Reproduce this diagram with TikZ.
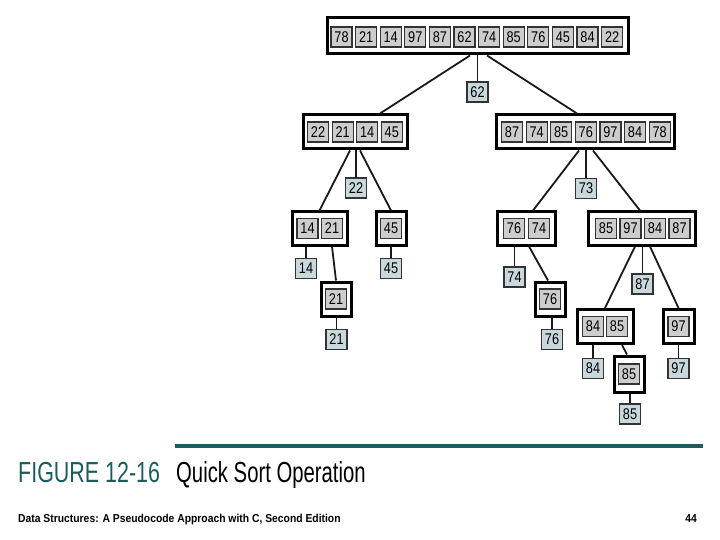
\documentclass[tikz,border=0pt]{standalone}
\usepackage{fontspec}
\setmainfont{Liberation Sans}
\newfontfamily\cellfont[FakeStretch=0.82]{Liberation Sans}
\newfontfamily\capfont[FakeStretch=0.7]{Liberation Sans}
\newfontfamily\tagfont[FakeStretch=0.74]{Liberation Sans}
\newfontfamily\footfont[FakeStretch=0.9]{Liberation Sans}
\definecolor{cellgray}{HTML}{CDCDCD}
\definecolor{fixedblue}{HTML}{C9D8DC}
\definecolor{capteal}{HTML}{1E5C5C}
\begin{document}
\begin{tikzpicture}[
    x=1pt, y=-1pt,
    part/.style={draw=black, line width=3pt, fill=white, minimum height=34pt, inner sep=0pt},
    cell/.style={draw=black!80, line width=1.2pt, fill=cellgray, minimum width=21pt, minimum height=20pt,
                 inner sep=0pt, font=\cellfont\fontsize{15.5}{15.5}\selectfont},
    fixed/.style={cell, fill=fixedblue},
    link/.style={line width=1.8pt, draw=black!90},
    figtag/.style={inner sep=0pt, text=capteal, font=\tagfont\fontsize{29}{30}\selectfont},
    figtitle/.style={inner sep=0pt, font=\capfont\fontsize{29}{30}\selectfont},
    foot/.style={inner sep=0pt, font=\footfont\bfseries\fontsize{11.5}{13}\selectfont}
]
\useasboundingbox (0,0) rectangle (720,540);

% whole list
\node[part, minimum width=301pt, minimum height=36pt] (top) at (477.5,36) {};
\foreach \v [count=\i from 0] in {78,21,14,97,87,62,74,85,76,45,84,22}
  \node[cell] (top-\i) at ({341.5+24.6*\i},37) {\v};
\node[fixed] (p62) at (477.5,92) {62};

% first partition
\node[part, minimum width=104pt] (l) at (355,132) {};
\foreach \v [count=\i from 0] in {22,21,14,45}
  \node[cell] (l-\i) at ({318+24.6*\i},132) {\v};
\node[part, minimum width=178pt] (r) at (585.5,132) {};
\foreach \v [count=\i from 0] in {87,74,85,76,97,84,78}
  \node[cell] (r-\i) at ({512+24.6*\i},132) {\v};

\node[fixed] (p22) at (356,188) {22};
\node[fixed] (p73) at (586,188.5) {73};

% second level
\node[part, minimum width=55pt, minimum height=33pt] (ll) at (319.5,228.5) {};
\node[cell] (ll-0) at (307.5,228.5) {14};
\node[cell] (ll-1) at (332,228.5) {21};
\node[part, minimum width=30pt, minimum height=33pt] (lr) at (391,228.5) {};
\node[cell] (lr-0) at (391,228.5) {45};

\node[part, minimum width=58pt, minimum height=33pt] (rl) at (526,228.5) {};
\node[cell] (rl-0) at (514,228.5) {76};
\node[cell] (rl-1) at (539,228.5) {74};
\node[part, minimum width=107pt, minimum height=33pt] (rr) at (641.5,228.5) {};
\foreach \v [count=\i from 0] in {85,97,84,87}
  \node[cell] (rr-\i) at ({606+24.5*\i},228.5) {\v};

% third level
\node[fixed] (s14) at (306,268.5) {14};
\node[fixed] (s45) at (391,268.5) {45};
\node[part, minimum width=30pt] (lrl) at (336,299) {};
\node[cell] (lrl-0) at (336,299) {21};
\node[fixed] (s21) at (336.5,339.5) {21};

\node[fixed] (s74) at (514.5,277) {74};
\node[part, minimum width=30pt] (rlr) at (550,299) {};
\node[cell] (rlr-0) at (550,299) {76};
\node[fixed] (s76) at (552,339.5) {76};

\node[fixed] (p87) at (642.5,284) {87};
\node[part, minimum width=56pt] (rrl) at (605,326.5) {};
\node[cell] (rrl-0) at (593,326.5) {84};
\node[cell] (rrl-1) at (617,326.5) {85};
\node[part, minimum width=31pt] (rrr) at (678.5,326.5) {};
\node[cell] (rrr-0) at (678.5,326.5) {97};
\node[fixed] (s84) at (593,368.5) {84};
\node[fixed] (s97) at (678.5,368.5) {97};
\node[part, minimum width=30pt, minimum height=36pt] (rrlr) at (629,374) {};
\node[cell] (rrlr-0) at (629,374) {85};
\node[fixed] (s85) at (630,414) {85};

% links
\draw[link] (top.south -| p62) -- (p62);
\draw[link] ([xshift=-7.5pt]top.south) -- ([xshift=25pt]l.north);
\draw[link] ([xshift=9.5pt]top.south) -- ([xshift=-8.5pt]r.north);
\draw[link] (l.south -| p22) -- (p22);
\draw[link] ([xshift=-5pt]l.south) -- (ll.north);
\draw[link] ([xshift=5pt]l.south) -- (lr.north);
\draw[link] (r.south -| p73) -- (p73);
\draw[link] ([xshift=-6.5pt]r.south) -- ([xshift=7pt]rl.north);
\draw[link] ([xshift=7.5pt]r.south) -- ([xshift=-1.5pt]rr.north);
\draw[link] (ll.south -| s14) -- (s14);
\draw[link] ([xshift=12.5pt]ll.south) -- (lrl.north);
\draw[link] (lr.south -| s45) -- (s45);
\draw[link] (lrl.south -| s21) -- (s21);
\draw[link] (rl.south -| s74) -- (s74);
\draw[link] ([xshift=3pt]rl.south) -- ([xshift=-2pt]rlr.north);
\draw[link] (rlr.south -| s76) -- (s76);
\draw[link] (rr.south -| p87) -- (p87);
\draw[link] ([xshift=-6.5pt]rr.south) -- (rrl.north);
\draw[link] ([xshift=8.5pt]rr.south) -- (rrr.north);
\draw[link] (rrl.south -| s84) -- (s84);
\draw[link] ([xshift=17pt]rrl.south) -- ([xshift=-2pt]rrlr.north);
\draw[link] (rrr.south -| s97) -- (s97);
\draw[link] (rrlr.south -| s85) -- (s85);

% caption
\draw[capteal, line width=3.5pt] (175,446) -- (703,446);
\node[figtag, anchor=base west] (fignum) at (18,482) {FIGURE 12-16};
\node[figtitle, anchor=base west] (figname) at (176,482) {Quick Sort Operation};
\node[foot, anchor=base west] (book) at (18,522) {Data Structures: A Pseudocode Approach with C, Second Edition};
\node[foot, anchor=base east] (page) at (697,522) {44};
\end{tikzpicture}
\end{document}
